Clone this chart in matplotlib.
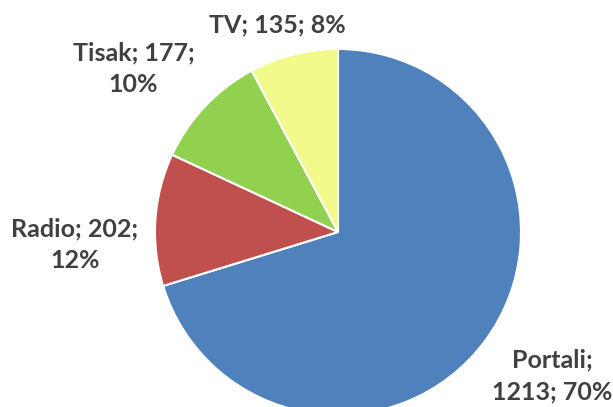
import matplotlib
matplotlib.use("Agg")
import matplotlib.pyplot as plt
import numpy as np

# data
categories = ["Portali", "Radio", "Tisak", "TV"]
values = [1213, 202, 177, 135]
percents = [70, 12, 10, 8]

colors = ["#4F81BD", "#C0504D", "#92D050", "#F3FA8C"]
label_text = ["Portali;\n1213; 70%", "Radio; 202;\n12%", "Tisak; 177;\n10%", "TV; 135; 8%"]
# label placement: distance (in radii) and angular nudge from wedge middle
label_dist = [1.41, 1.44, 1.43, 1.18]
label_nudge = [2.5, 6.7, 4.8, 2.1]

fig = plt.figure(figsize=(6.13, 4.07), dpi=100)
ax = fig.add_axes([0, 0, 1, 1])

cx, cy, r = 338, 407 - 232, 183
wedges, _ = ax.pie(values, colors=colors, startangle=90, counterclock=False,
                   center=(cx, cy), radius=r, frame=True,
                   wedgeprops=dict(edgecolor="white", linewidth=1.5))
ax.set_xlim(0, 613)
ax.set_ylim(0, 407)
ax.set_aspect("equal")
ax.axis("off")

for w, txt, d, nudge in zip(wedges, label_text, label_dist, label_nudge):
    mid = np.deg2rad((w.theta1 + w.theta2) / 2 + nudge)
    x = cx + d * r * np.cos(mid)
    y = cy + d * r * np.sin(mid)
    ax.text(x, y, txt, ha="center", va="center", fontsize=18, fontweight="bold",
            color="#404040", family="Lato", linespacing=1.45)

fig.savefig("out.png", dpi=100)
